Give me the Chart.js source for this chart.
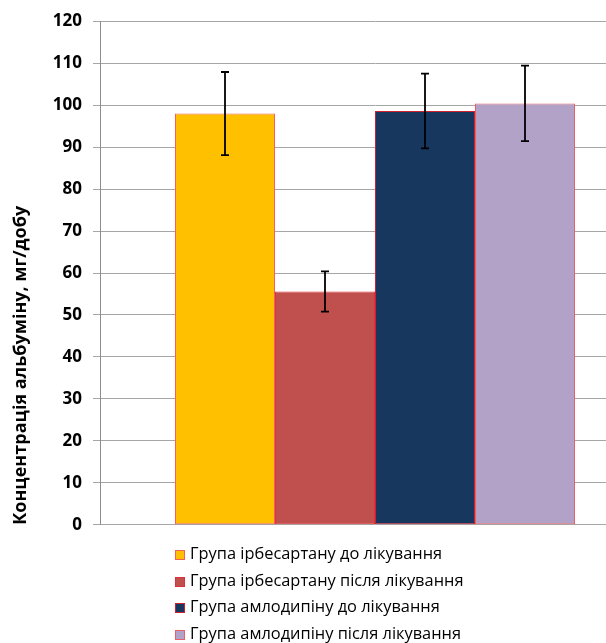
<!DOCTYPE html>
<html>
<head>
<meta charset="utf-8">
<script src="https://cdn.jsdelivr.net/npm/chart.js@4/dist/chart.umd.min.js"></script>
<style>
  html, body { margin:0; padding:0; background:#fff; overflow:hidden; width:606px; height:643px; }
  #wrap { position:relative; width:660px; height:546px; }
  #legend { position:absolute; left:175px; top:540px; font-family:"Open Sans", sans-serif; font-size:16.4px; color:#000; }
  #legend div { height:26.7px; line-height:26.7px; white-space:nowrap; }
  #legend span.box { display:inline-block; width:8px; height:8px; margin-right:5px; vertical-align:-1px; border:1px solid; }
</style>
</head>
<body>
<div id="wrap"><canvas id="albChart" width="660" height="546"></canvas></div>
<div id="legend"></div>
<script>
// values (mg/day), one category, four groups
const groups = [
  'Група ірбесартану до лікування',
  'Група ірбесартану після лікування',
  'Група амлодипіну до лікування',
  'Група амлодипіну після лікування'
];
const means = [98.0, 55.6, 98.6, 100.4];
const errors = [9.9, 4.8, 8.9, 9.0];
const fills = ['#FFC000', '#C0504D', '#17375E', '#B3A2C7'];
const edges = ['#F4605A', '#E0303A', '#D0202E', '#E8606A'];
const yTicks = [0, 10, 20, 30, 40, 50, 60, 70, 80, 90, 100, 110, 120];

// error bars drawn from data through the y scale
const errorBars = {
  id: 'errorBars',
  afterDatasetsDraw(chart) {
    const c = chart.ctx, y = chart.scales.y;
    c.save();
    c.strokeStyle = '#000';
    c.lineWidth = 1.8;
    chart.data.datasets.forEach((ds, i) => {
      const bar = chart.getDatasetMeta(i).data[0];
      const hi = y.getPixelForValue(means[i] + errors[i]);
      const lo = y.getPixelForValue(means[i] - errors[i]);
      c.beginPath();
      c.moveTo(bar.x, hi); c.lineTo(bar.x, lo);
      c.moveTo(bar.x - 4, hi); c.lineTo(bar.x + 4, hi);
      c.moveTo(bar.x - 4, lo); c.lineTo(bar.x + 4, lo);
      c.stroke();
    });
    c.restore();
  }
};

const ctx = document.getElementById('albChart').getContext('2d');
const chart = new Chart(ctx, {
  type: 'bar',
  data: {
    labels: [''],
    datasets: groups.map((g, i) => ({
      label: g,
      data: [means[i]],
      backgroundColor: fills[i],
      borderColor: edges[i],
      borderWidth: 1,
      borderSkipped: false,
      categoryPercentage: 400 / 550,
      barPercentage: 1
    }))
  },
  options: {
    responsive: false,
    animation: false,
    layout: { padding: { left: 10, right: 10, top: 20, bottom: 7 } },
    plugins: { legend: { display: false }, tooltip: { enabled: false } },
    scales: {
      x: { display: false },
      y: {
        min: 0, max: 120,
        afterBuildTicks(scale) { scale.ticks = yTicks.map(v => ({ value: v })); },
        afterFit(scale) { scale.width = 90; },
        ticks: { color: '#000', padding: 11, font: { family: 'Open Sans', size: 17, weight: 'bold' } },
        grid: { color: '#a6a6a6', lineWidth: 1, tickLength: 7 },
        border: { color: '#8c8c8c', width: 1 },
        title: {
          display: true,
          text: 'Концентрація альбуміну, мг/добу',
          align: 'start',
          color: '#000',
          padding: { top: 0, bottom: 0 },
          font: { family: 'Open Sans', size: 18, weight: 'bold' }
        }
      }
    }
  },
  plugins: [errorBars]
});

// legend built from the chart datasets
const leg = document.getElementById('legend');
chart.data.datasets.forEach(ds => {
  const row = document.createElement('div');
  const box = document.createElement('span');
  box.className = 'box';
  box.style.background = ds.backgroundColor;
  box.style.borderColor = ds.borderColor;
  row.appendChild(box);
  row.appendChild(document.createTextNode(ds.label));
  leg.appendChild(row);
});
</script>
</body>
</html>
